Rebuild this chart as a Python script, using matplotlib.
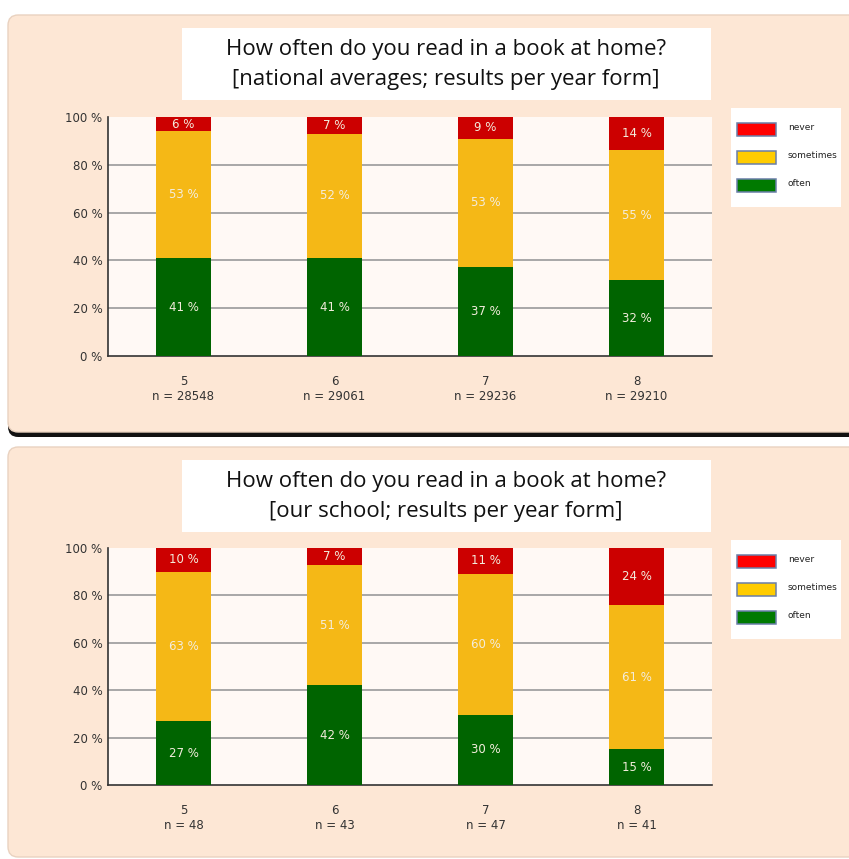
import matplotlib.pyplot as plt
from matplotlib.patches import FancyBboxPatch, Rectangle
import numpy as np

years = ['5', '6', '7', '8']
n_national = [28548, 29061, 29236, 29210]
n_school = [48, 43, 47, 41]

# percentages per year form (often / sometimes / never), as printed
nat_often = [41, 41, 37, 32]
nat_sometimes = [53, 52, 53, 55]
nat_never = [6, 7, 9, 14]

sch_often = [27, 42, 30, 15]
sch_sometimes = [63, 51, 60, 61]
sch_never = [10, 7, 11, 24]

labels = ['never', 'sometimes', 'often']

W, H = 849, 859
fig = plt.figure(figsize=(W / 100, H / 100), dpi=100)
fig.patch.set_facecolor('white')

PEACH = '#fde7d5'
GREEN = '#006400'
YELLOW = '#f5b816'
RED = '#cc0000'
TXT = '#f3ecdc'


def fx(px):
    return px / W


def fy(py):
    return 1 - py / H


def panel(top, bottom, title1, title2, often, sometimes, never, ns, ax_top, ax_bot, leg_top, shadow):
    # shadow + rounded background
    if shadow:
        fig.patches.append(FancyBboxPatch((fx(8), fy(bottom + 5)), fx(860) - fx(8), fy(top + 3) - fy(bottom + 5),
                                          boxstyle='round,pad=0,rounding_size=0.012', transform=fig.transFigure,
                                          facecolor='#111111', edgecolor='none', zorder=0))
    fig.patches.append(FancyBboxPatch((fx(8), fy(bottom)), fx(860) - fx(8), fy(top) - fy(bottom),
                                      boxstyle='round,pad=0,rounding_size=0.012', transform=fig.transFigure,
                                      facecolor=PEACH, edgecolor='#e9d2c0', lw=1, zorder=0.5))

    # title box
    tb_top = top + 13
    fig.patches.append(Rectangle((fx(182), fy(tb_top + 72)), fx(711) - fx(182), fy(tb_top) - fy(tb_top + 72),
                                 transform=fig.transFigure, facecolor='white', edgecolor='none', zorder=1))
    fig.text(fx(446), fy(tb_top + 21), title1, ha='center', va='center', fontsize=16,
             family='Open Sans', color='#111111', zorder=2)
    fig.text(fx(446), fy(tb_top + 52), title2, ha='center', va='center', fontsize=16,
             family='Open Sans', color='#111111', zorder=2)

    ax = fig.add_axes([fx(108), fy(ax_bot), fx(712) - fx(108), fy(ax_top) - fy(ax_bot)])
    ax.set_zorder(5)
    ax.set_facecolor('#fff9f5')
    x = np.arange(len(years))
    bw = 0.365
    often = np.array(often, dtype=float)
    sometimes = np.array(sometimes, dtype=float)
    never = np.array(never, dtype=float)
    # printed values are rounded; scale each stack so it fills 100 %
    tot = (often + sometimes + never) / 100
    o, s, nv = often / tot, sometimes / tot, never / tot
    ax.bar(x, o, bw, color=GREEN, zorder=3)
    ax.bar(x, s, bw, bottom=o, color=YELLOW, zorder=3)
    ax.bar(x, nv, bw, bottom=o + s, color=RED, zorder=3)
    for i in range(len(years)):
        ax.text(x[i], o[i] / 2, f'{int(often[i])} %', ha='center', va='center', color=TXT,
                fontsize=8.5, zorder=4)
        ax.text(x[i], o[i] + s[i] / 2, f'{int(sometimes[i])} %', ha='center', va='center',
                color=TXT, fontsize=8.5, zorder=4)
        ax.text(x[i], o[i] + s[i] + nv[i] / 2, f'{int(never[i])} %', ha='center', va='center',
                color=TXT, fontsize=8.5, zorder=4)
    ax.set_xlim(-0.5, 3.5)
    ax.set_ylim(0, 100)
    ax.set_yticks([0, 20, 40, 60, 80, 100])
    ax.set_yticklabels([f'{v} %' for v in [0, 20, 40, 60, 80, 100]])
    ax.set_xticks(x)
    ax.set_xticklabels([f'{y}\nn = {n}' for y, n in zip(years, ns)])
    for g in [20, 40, 60, 80]:
        ax.axhline(g, color='#9a9a9a', lw=1.2, zorder=1)
    ax.tick_params(length=0, labelsize=8.5, colors='#333333', pad=4)
    ax.tick_params(axis='x', pad=14)
    for sp in ['top', 'right']:
        ax.spines[sp].set_visible(False)
    ax.spines['left'].set_color('#333333')
    ax.spines['bottom'].set_color('#333333')
    ax.spines['left'].set_linewidth(1.2)
    ax.spines['bottom'].set_linewidth(1.2)

    # legend box
    fig.patches.append(Rectangle((fx(731), fy(leg_top + 99)), fx(841) - fx(731), 99 / H,
                                 transform=fig.transFigure, facecolor='white', edgecolor='none', zorder=1))
    leg_cols = ['#ff0000', '#ffcc00', '#007a00']
    for k, (lab, c) in enumerate(zip(labels, leg_cols)):
        yc = leg_top + 21 + k * 28
        fig.patches.append(Rectangle((fx(737), fy(yc + 7)), fx(776) - fx(737), 13 / H,
                                     transform=fig.transFigure, facecolor=c, edgecolor='#6a7fa8',
                                     lw=1.1, zorder=2))
        fig.text(fx(788), fy(yc - 2), lab, fontsize=6.5, va='center', ha='left', color='#222222', zorder=3)


panel(15, 432, 'How often do you read in a book at home?', '[national averages; results per year form]',
      nat_often, nat_sometimes, nat_never, n_national, 117, 356, 108, True)
panel(447, 857, 'How often do you read in a book at home?', '[our school; results per year form]',
      sch_often, sch_sometimes, sch_never, n_school, 548, 785, 540, False)

fig.savefig('out.png', dpi=100)
